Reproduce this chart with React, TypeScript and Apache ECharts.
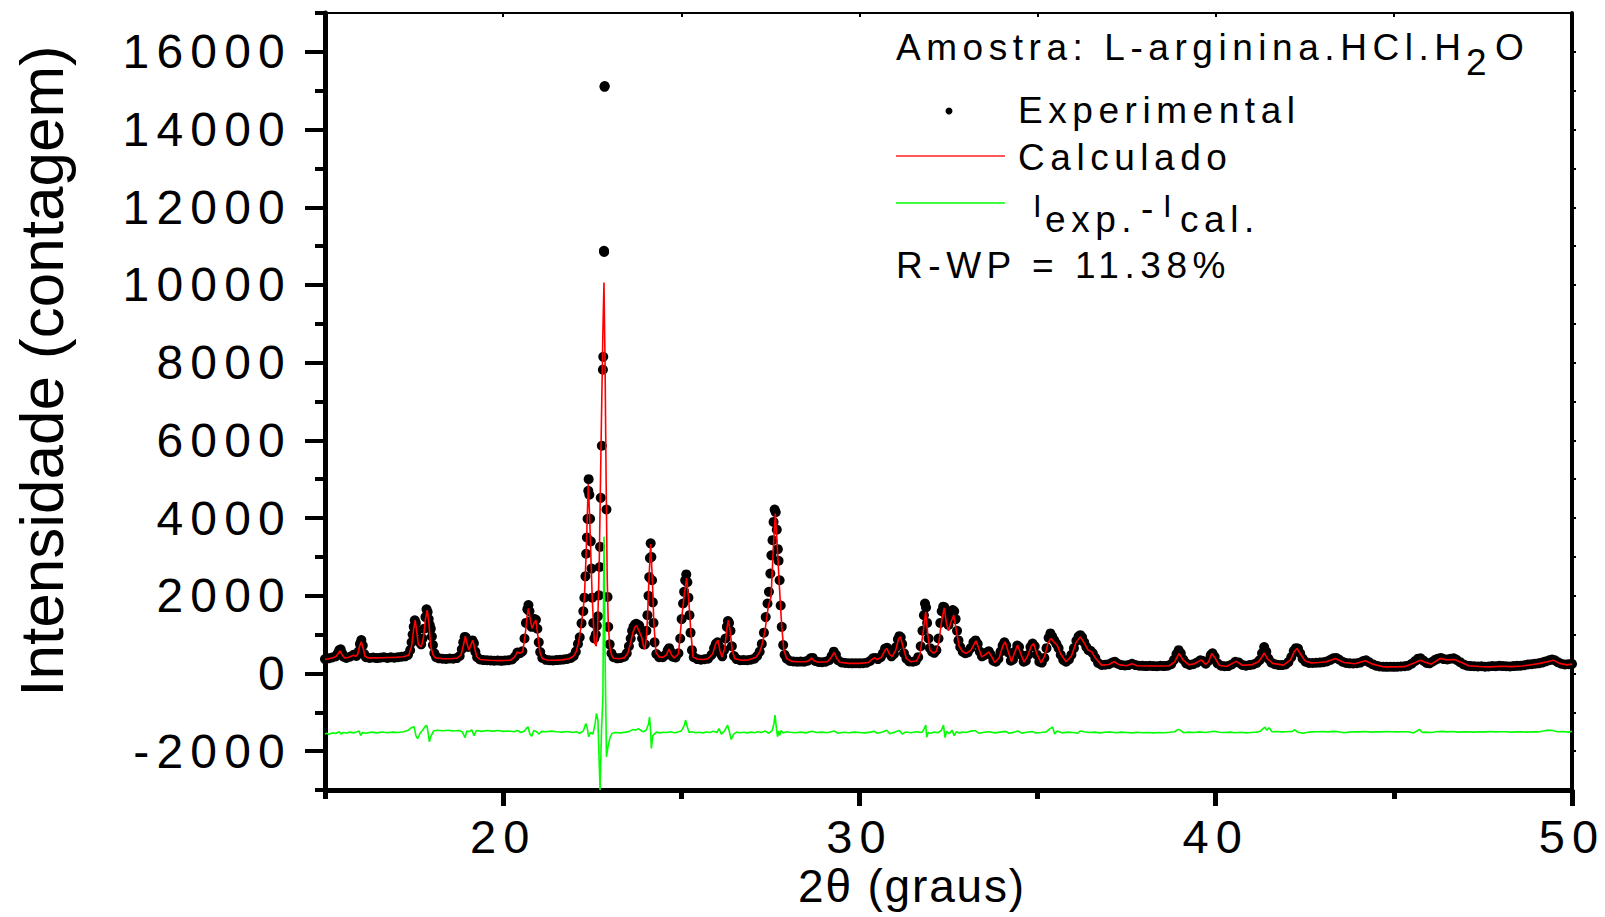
import React, { useEffect, useRef } from 'react';
import * as echarts from 'echarts';

const FONT = "'Liberation Sans', Arial, sans-serif";

// axis ticks / labels
const xMajorTicks = [20, 30, 40, 50];
const xMinorTicks = [15, 25, 35, 45];
const xTopTicks = [20, 25, 30, 35, 40, 45];
const yMajorTicks = [-2000, 0, 2000, 4000, 6000, 8000, 10000, 12000, 14000, 16000];
const yMinorTicks = [-3000, -1000, 1000, 3000, 5000, 7000, 9000, 11000, 13000, 15000, 17000];
const yRightTicks = [-2000, -1000, 0, 1000, 2000, 3000, 4000, 5000, 6000, 7000, 8000, 9000, 10000, 11000, 12000, 13000, 14000, 15000, 16000];

// Experimental (2θ, intensity)
const experimental: [number, number][] = [
  [15.0, 370], [15.1, 390], [15.2, 410], [15.3, 440], [15.36, 520], [15.4, 600], [15.44, 620], [15.48, 520], [15.52, 430], [15.6, 400],
  [15.7, 430], [15.8, 480], [15.88, 450], [15.94, 560], [15.98, 760], [16.02, 860], [16.06, 720], [16.1, 500], [16.15, 420], [16.25, 400],
  [16.35, 410], [16.45, 395], [16.55, 405], [16.65, 420], [16.75, 400], [16.85, 415], [16.95, 405], [17.05, 420], [17.15, 430], [17.25, 440],
  [17.33, 480], [17.39, 600], [17.43, 800], [17.46, 1000], [17.49, 1200], [17.52, 1370], [17.55, 1300], [17.58, 1100], [17.62, 850], [17.66, 800],
  [17.7, 750], [17.74, 900], [17.78, 1150], [17.82, 1450], [17.85, 1650], [17.88, 1580], [17.91, 1400], [17.94, 1250], [17.97, 1150], [18.0, 950],
  [18.03, 730], [18.07, 520], [18.12, 420], [18.2, 390], [18.3, 380], [18.4, 375], [18.5, 385], [18.6, 380], [18.7, 395], [18.78, 450],
  [18.84, 620], [18.88, 800], [18.92, 940], [18.95, 930], [18.98, 800], [19.02, 680], [19.06, 720], [19.1, 830], [19.14, 850], [19.18, 780],
  [19.22, 560], [19.27, 420], [19.35, 360], [19.45, 345], [19.55, 340], [19.65, 335], [19.75, 330], [19.85, 335], [19.95, 325], [20.05, 335],
  [20.15, 340], [20.25, 360], [20.33, 430], [20.4, 540], [20.47, 520], [20.54, 570], [20.6, 900], [20.64, 1300], [20.68, 1650], [20.71, 1760],
  [20.74, 1600], [20.77, 1350], [20.8, 1200], [20.84, 1300], [20.88, 1400], [20.92, 1380], [20.96, 1150], [21.0, 800], [21.04, 550], [21.1, 400],
  [21.2, 350], [21.3, 340], [21.4, 335], [21.5, 345], [21.6, 350], [21.7, 360], [21.8, 375], [21.9, 400], [21.98, 450], [22.04, 560],
  [22.1, 760], [22.15, 930], [22.2, 1290], [22.25, 1600], [22.28, 1950], [22.31, 2500], [22.33, 3080], [22.35, 3500], [22.37, 3980], [22.39, 4700],
  [22.4, 5000], [22.42, 4600], [22.44, 3980], [22.46, 3400], [22.48, 2700], [22.5, 1950], [22.53, 1300], [22.56, 900], [22.6, 1000], [22.63, 1230],
  [22.66, 1470], [22.69, 2010], [22.71, 2740], [22.72, 3260], [22.74, 4520], [22.77, 5860], [22.8, 7820], [22.81, 8150], [22.83, 10880], [22.835, 10850],
  [22.845, 15100], [22.85, 15120], [22.9, 4220], [22.93, 1970], [22.95, 1200], [22.99, 750], [23.04, 520], [23.1, 420], [23.2, 390], [23.3, 400],
  [23.4, 430], [23.47, 520], [23.53, 700], [23.58, 900], [23.62, 1100], [23.66, 1200], [23.7, 1260], [23.74, 1280], [23.78, 1250], [23.82, 1230],
  [23.86, 1100], [23.9, 900], [23.94, 750], [23.98, 750], [24.02, 1100], [24.05, 1500], [24.08, 2000], [24.1, 2480], [24.12, 2970], [24.14, 3350],
  [24.16, 3000], [24.18, 2400], [24.2, 1830], [24.22, 1300], [24.25, 800], [24.3, 500], [24.38, 420], [24.48, 420], [24.56, 480], [24.62, 600],
  [24.66, 650], [24.7, 560], [24.76, 430], [24.84, 410], [24.92, 520], [24.97, 900], [25.01, 1400], [25.05, 1800], [25.08, 2100], [25.11, 2400],
  [25.14, 2550], [25.17, 2350], [25.2, 1950], [25.23, 1500], [25.26, 1050], [25.3, 600], [25.35, 420], [25.45, 370], [25.55, 355], [25.65, 365],
  [25.75, 380], [25.85, 480], [25.92, 650], [25.97, 760], [26.02, 800], [26.06, 700], [26.1, 520], [26.15, 440], [26.2, 600], [26.24, 900],
  [26.28, 1200], [26.31, 1350], [26.34, 1300], [26.38, 1100], [26.42, 700], [26.48, 450], [26.55, 370], [26.65, 340], [26.75, 345], [26.85, 340],
  [26.95, 355], [27.05, 380], [27.13, 450], [27.2, 560], [27.26, 760], [27.32, 1050], [27.37, 1450], [27.42, 1800], [27.46, 2100], [27.5, 2570],
  [27.53, 3040], [27.56, 3430], [27.59, 3900], [27.62, 4220], [27.65, 4150], [27.68, 3700], [27.71, 3200], [27.73, 2900], [27.76, 2400], [27.79, 1750],
  [27.82, 1200], [27.86, 730], [27.9, 480], [27.96, 380], [28.05, 320], [28.15, 310], [28.25, 300], [28.35, 305], [28.45, 300], [28.55, 330],
  [28.63, 390], [28.69, 400], [28.76, 320], [28.85, 295], [28.95, 290], [29.05, 300], [29.15, 340], [29.22, 450], [29.28, 560], [29.34, 480],
  [29.4, 340], [29.5, 285], [29.6, 270], [29.7, 265], [29.8, 260], [29.9, 265], [30.0, 260], [30.1, 265], [30.2, 275], [30.3, 320],
  [30.38, 390], [30.45, 400], [30.52, 370], [30.6, 420], [30.66, 520], [30.72, 640], [30.78, 660], [30.84, 520], [30.9, 440], [30.97, 500],
  [31.03, 680], [31.08, 880], [31.12, 960], [31.16, 930], [31.2, 760], [31.25, 520], [31.32, 380], [31.4, 310], [31.5, 300], [31.58, 320],
  [31.65, 420], [31.72, 700], [31.77, 1100], [31.81, 1500], [31.84, 1800], [31.87, 1700], [31.9, 1300], [31.94, 900], [31.98, 650], [32.04, 560],
  [32.1, 530], [32.16, 600], [32.22, 900], [32.27, 1300], [32.31, 1600], [32.35, 1720], [32.39, 1700], [32.43, 1500], [32.47, 1300], [32.5, 1250],
  [32.54, 1400], [32.58, 1550], [32.62, 1630], [32.66, 1600], [32.7, 1400], [32.74, 1100], [32.78, 850], [32.83, 680], [32.9, 560], [32.97, 520],
  [33.04, 540], [33.12, 650], [33.2, 800], [33.26, 850], [33.32, 760], [33.38, 560], [33.44, 440], [33.5, 470], [33.57, 540], [33.63, 570],
  [33.69, 480], [33.76, 330], [33.83, 300], [33.9, 380], [33.96, 560], [34.02, 720], [34.07, 800], [34.12, 720], [34.18, 540], [34.25, 330],
  [34.31, 360], [34.37, 560], [34.43, 720], [34.48, 680], [34.54, 480], [34.61, 300], [34.67, 330], [34.74, 480], [34.8, 680], [34.86, 770],
  [34.92, 700], [34.98, 480], [35.05, 300], [35.12, 280], [35.19, 400], [35.25, 650], [35.31, 920], [35.36, 1030], [35.41, 950], [35.47, 850],
  [35.53, 760], [35.59, 650], [35.65, 480], [35.72, 350], [35.8, 300], [35.88, 360], [35.95, 480], [36.02, 650], [36.09, 840], [36.15, 950],
  [36.2, 985], [36.25, 930], [36.31, 800], [36.37, 680], [36.43, 600], [36.49, 580], [36.55, 520], [36.62, 400], [36.7, 270], [36.8, 220],
  [36.9, 225], [37.0, 240], [37.1, 280], [37.17, 300], [37.25, 250], [37.35, 215], [37.45, 205], [37.55, 215], [37.65, 250], [37.75, 215],
  [37.85, 200], [37.95, 195], [38.05, 190], [38.15, 195], [38.25, 190], [38.35, 185], [38.45, 195], [38.55, 190], [38.65, 200], [38.75, 240],
  [38.83, 350], [38.9, 500], [38.96, 600], [39.02, 520], [39.09, 360], [39.17, 260], [39.27, 220], [39.37, 240], [39.47, 280], [39.57, 340],
  [39.64, 320], [39.72, 250], [39.8, 330], [39.86, 470], [39.91, 520], [39.97, 430], [40.05, 260], [40.15, 200], [40.25, 185], [40.35, 190],
  [40.45, 230], [40.55, 300], [40.65, 280], [40.75, 220], [40.85, 200], [40.95, 215], [41.05, 230], [41.15, 270], [41.23, 340], [41.3, 520],
  [41.36, 680], [41.42, 560], [41.48, 380], [41.56, 280], [41.66, 240], [41.76, 220], [41.86, 215], [41.96, 230], [42.04, 290], [42.12, 420],
  [42.19, 580], [42.25, 650], [42.31, 640], [42.37, 520], [42.44, 380], [42.52, 300], [42.62, 270], [42.72, 270], [42.82, 275], [42.92, 280],
  [43.02, 290], [43.12, 310], [43.22, 350], [43.3, 390], [43.38, 400], [43.46, 360], [43.56, 300], [43.66, 270], [43.76, 260], [43.86, 255],
  [43.96, 265], [44.06, 280], [44.14, 320], [44.22, 340], [44.3, 290], [44.4, 240], [44.5, 200], [44.6, 180], [44.7, 175], [44.8, 170],
  [44.9, 175], [45.0, 170], [45.1, 175], [45.2, 180], [45.3, 185], [45.4, 200], [45.5, 250], [45.6, 320], [45.68, 380], [45.75, 390],
  [45.83, 330], [45.92, 270], [46.0, 260], [46.08, 300], [46.16, 350], [46.24, 380], [46.32, 400], [46.4, 370], [46.5, 360], [46.6, 380],
  [46.68, 390], [46.76, 350], [46.86, 290], [46.96, 230], [47.06, 200], [47.16, 190], [47.26, 185], [47.36, 180], [47.46, 185], [47.56, 175],
  [47.66, 180], [47.76, 190], [47.86, 185], [47.96, 195], [48.06, 190], [48.16, 185], [48.26, 180], [48.36, 190], [48.46, 195], [48.56, 200],
  [48.66, 210], [48.76, 230], [48.86, 240], [48.96, 250], [49.06, 260], [49.16, 280], [49.26, 310], [49.36, 340], [49.44, 360], [49.52, 340],
  [49.6, 290], [49.7, 250], [49.8, 230], [49.9, 240], [50.0, 245],
];

// Calculated profile (2θ, intensity)
const calculado: [number, number][] = [
  [15.0, 360], [15.1, 380], [15.2, 400], [15.3, 430], [15.36, 500], [15.42, 580], [15.48, 480], [15.55, 400], [15.65, 410], [15.75, 450],
  [15.8, 470], [15.86, 440], [15.92, 500], [15.97, 700], [16.02, 814], [16.07, 650], [16.12, 450], [16.2, 400], [16.4, 400], [16.6, 405],
  [16.8, 410], [17.0, 415], [17.2, 430], [17.35, 470], [17.43, 700], [17.49, 1150], [17.53, 1372], [17.57, 1100], [17.62, 750], [17.7, 685],
  [17.76, 900], [17.82, 1400], [17.87, 1630], [17.92, 1250], [17.97, 700], [18.03, 480], [18.1, 400], [18.3, 380], [18.5, 380], [18.7, 390],
  [18.82, 480], [18.89, 750], [18.94, 960], [18.99, 750], [19.04, 600], [19.1, 750], [19.15, 857], [19.2, 650], [19.26, 430], [19.35, 360],
  [19.6, 340], [19.9, 330], [20.2, 340], [20.32, 420], [20.4, 556], [20.46, 520], [20.55, 560], [20.62, 1000], [20.67, 1450], [20.71, 1672],
  [20.75, 1450], [20.81, 1158], [20.87, 1300], [20.92, 1372], [20.97, 1000], [21.03, 550], [21.1, 386], [21.25, 340], [21.45, 340], [21.65, 350],
  [21.85, 380], [21.98, 450], [22.05, 560], [22.12, 800], [22.2, 1287], [22.28, 1946], [22.33, 3084], [22.36, 4000], [22.39, 4883], [22.43, 3982],
  [22.46, 3084], [22.5, 1946], [22.56, 805], [22.61, 700], [22.65, 1100], [22.7, 3000], [22.75, 6000], [22.8, 8800], [22.83, 10060], [22.86, 8000],
  [22.89, 5000], [22.92, 2500], [22.95, 1300], [22.99, 700], [23.04, 480], [23.1, 390], [23.25, 380], [23.4, 400], [23.5, 520], [23.58, 800],
  [23.64, 1047], [23.7, 1200], [23.75, 1228], [23.81, 1100], [23.89, 927], [23.94, 700], [23.98, 625], [24.02, 900], [24.05, 1405], [24.09, 2365],
  [24.14, 3328], [24.19, 2365], [24.23, 1287], [24.29, 540], [24.38, 420], [24.5, 420], [24.58, 480], [24.66, 625], [24.72, 480], [24.8, 400],
  [24.92, 500], [25.01, 1405], [25.08, 2005], [25.15, 2453], [25.21, 1880], [25.27, 1050], [25.33, 420], [25.45, 370], [25.6, 360], [25.75, 380],
  [25.88, 500], [25.97, 780], [26.03, 857], [26.08, 600], [26.14, 420], [26.22, 650], [26.28, 1150], [26.32, 1372], [26.37, 1100], [26.43, 600],
  [26.5, 380], [26.7, 340], [26.9, 350], [27.1, 420], [27.2, 550], [27.27, 750], [27.35, 1100], [27.44, 1715], [27.52, 1972], [27.58, 3174],
  [27.64, 4118], [27.7, 3174], [27.76, 2144], [27.82, 1200], [27.88, 600], [27.96, 386], [28.1, 310], [28.3, 300], [28.5, 300], [28.6, 340],
  [28.66, 400], [28.72, 330], [28.85, 290], [29.1, 300], [29.2, 400], [29.29, 540], [29.36, 400], [29.45, 290], [29.7, 260], [30.0, 260],
  [30.25, 280], [30.35, 360], [30.42, 403], [30.5, 360], [30.62, 420], [30.72, 600], [30.77, 643], [30.84, 500], [30.92, 430], [31.02, 600],
  [31.1, 900], [31.15, 943], [31.22, 700], [31.32, 380], [31.45, 300], [31.6, 320], [31.7, 500], [31.78, 1000], [31.86, 1587], [31.92, 1000],
  [31.98, 600], [32.08, 520], [32.15, 560], [32.23, 800], [32.3, 1300], [32.38, 1690], [32.44, 1300], [32.5, 1100], [32.56, 1300], [32.65, 1501],
  [32.72, 1100], [32.8, 700], [32.9, 560], [33.0, 515], [33.13, 600], [33.27, 839], [33.35, 650], [33.43, 428], [33.53, 480], [33.63, 557],
  [33.72, 420], [33.8, 280], [33.92, 400], [34.02, 700], [34.09, 814], [34.18, 550], [34.27, 300], [34.36, 550], [34.44, 728], [34.53, 500],
  [34.62, 290], [34.72, 450], [34.82, 700], [34.89, 772], [34.98, 500], [35.1, 270], [35.2, 450], [35.3, 800], [35.38, 900], [35.47, 800],
  [35.55, 730], [35.65, 500], [35.8, 300], [35.95, 450], [36.08, 800], [36.2, 943], [36.3, 800], [36.42, 600], [36.52, 557], [36.62, 400],
  [36.8, 214], [37.0, 230], [37.15, 300], [37.3, 220], [37.5, 200], [37.65, 250], [37.8, 200], [38.1, 190], [38.4, 190], [38.7, 200],
  [38.85, 300], [38.97, 515], [39.08, 350], [39.25, 220], [39.4, 250], [39.6, 350], [39.72, 230], [39.8, 300], [39.89, 515], [39.98, 400],
  [40.1, 210], [40.3, 180], [40.58, 310], [40.75, 210], [41.0, 220], [41.2, 300], [41.3, 430], [41.36, 531], [41.45, 380], [41.6, 260],
  [41.9, 214], [42.1, 350], [42.2, 550], [42.28, 643], [42.38, 500], [42.5, 330], [42.66, 273], [42.9, 280], [43.1, 300], [43.36, 386],
  [43.6, 280], [43.9, 250], [44.2, 325], [44.4, 240], [44.7, 170], [45.0, 170], [45.3, 175], [45.55, 260], [45.74, 342], [45.9, 280],
  [46.05, 240], [46.3, 386], [46.5, 350], [46.7, 360], [46.9, 280], [47.1, 200], [47.4, 180], [47.7, 170], [48.0, 185], [48.3, 175],
  [48.6, 190], [48.9, 230], [49.1, 260], [49.3, 300], [49.48, 342], [49.65, 260], [49.85, 220], [50.0, 240],
];

// Difference I_exp - I_cal, drawn with its offset (2θ, intensity)
const diferenca: [number, number][] = [
  [15.0, -1560], [15.05, -1540], [15.1, -1570], [15.2, -1530], [15.3, -1545], [15.4, -1500], [15.45, -1560], [15.5, -1520], [15.6, -1535], [15.7, -1510],
  [15.8, -1530], [15.9, -1500], [15.96, -1480], [16.0, -1600], [16.05, -1520], [16.15, -1540], [16.3, -1510], [16.45, -1530], [16.6, -1505], [16.75, -1525],
  [16.9, -1510], [17.05, -1520], [17.2, -1500], [17.32, -1470], [17.42, -1400], [17.5, -1370], [17.55, -1600], [17.6, -1680], [17.67, -1540], [17.75, -1450],
  [17.82, -1350], [17.86, -1340], [17.9, -1560], [17.93, -1760], [17.97, -1620], [18.05, -1480], [18.15, -1460], [18.3, -1475], [18.45, -1460], [18.6, -1480],
  [18.75, -1470], [18.85, -1500], [18.93, -1650], [18.98, -1480], [19.05, -1500], [19.12, -1450], [19.18, -1600], [19.25, -1470], [19.4, -1490], [19.55, -1470],
  [19.7, -1485], [19.85, -1470], [20.0, -1490], [20.15, -1480], [20.3, -1500], [20.4, -1470], [20.5, -1520], [20.6, -1480], [20.66, -1400], [20.7, -1380],
  [20.75, -1560], [20.8, -1620], [20.86, -1470], [20.94, -1500], [21.0, -1560], [21.08, -1490], [21.2, -1500], [21.35, -1485], [21.5, -1500], [21.65, -1510],
  [21.8, -1495], [21.95, -1520], [22.05, -1500], [22.15, -1540], [22.25, -1480], [22.32, -1290], [22.36, -1400], [22.4, -1630], [22.45, -1520], [22.52, -1560],
  [22.58, -1300], [22.62, -1030], [22.66, -1200], [22.72, -3000], [22.76, -1500], [22.8, -600], [22.83, 3520], [22.86, 500], [22.9, -2150], [22.94, -1900],
  [23.0, -1650], [23.05, -1545], [23.15, -1520], [23.3, -1530], [23.45, -1510], [23.55, -1490], [23.65, -1440], [23.72, -1460], [23.8, -1420], [23.88, -1480],
  [23.95, -1500], [24.02, -1450], [24.08, -1300], [24.11, -1120], [24.14, -1500], [24.16, -1930], [24.2, -1600], [24.3, -1510], [24.4, -1530], [24.5, -1515],
  [24.6, -1520], [24.7, -1500], [24.8, -1525], [24.9, -1510], [25.0, -1480], [25.08, -1350], [25.12, -1200], [25.17, -1380], [25.22, -1520], [25.3, -1500],
  [25.4, -1525], [25.5, -1515], [25.6, -1530], [25.7, -1505], [25.8, -1520], [25.9, -1490], [26.0, -1520], [26.06, -1420], [26.12, -1560], [26.2, -1500],
  [26.3, -1330], [26.35, -1500], [26.4, -1700], [26.47, -1560], [26.55, -1510], [26.65, -1525], [26.75, -1515], [26.85, -1530], [26.95, -1510], [27.05, -1525],
  [27.15, -1500], [27.25, -1520], [27.35, -1480], [27.45, -1540], [27.55, -1470], [27.6, -1300], [27.63, -1070], [27.67, -1400], [27.7, -1630], [27.73, -1480],
  [27.76, -1600], [27.8, -1470], [27.86, -1530], [27.95, -1500], [28.05, -1515], [28.2, -1525], [28.35, -1510], [28.5, -1530], [28.66, -1490], [28.8, -1520],
  [28.95, -1510], [29.1, -1525], [29.29, -1480], [29.4, -1540], [29.55, -1515], [29.7, -1525], [29.85, -1510], [30.0, -1520], [30.15, -1530], [30.3, -1510],
  [30.42, -1490], [30.5, -1540], [30.65, -1505], [30.77, -1460], [30.85, -1550], [31.0, -1510], [31.12, -1470], [31.2, -1560], [31.3, -1505], [31.45, -1525],
  [31.6, -1500], [31.75, -1520], [31.82, -1420], [31.86, -1330], [31.89, -1640], [31.93, -1520], [32.0, -1540], [32.1, -1510], [32.2, -1525], [32.3, -1470],
  [32.36, -1330], [32.4, -1650], [32.45, -1490], [32.52, -1550], [32.6, -1460], [32.66, -1600], [32.72, -1500], [32.8, -1530], [32.9, -1505], [33.0, -1520],
  [33.1, -1490], [33.25, -1470], [33.35, -1540], [33.5, -1515], [33.65, -1500], [33.8, -1530], [33.95, -1510], [34.1, -1490], [34.2, -1540], [34.35, -1510],
  [34.45, -1480], [34.55, -1535], [34.7, -1515], [34.85, -1495], [34.95, -1530], [35.1, -1520], [35.25, -1500], [35.35, -1420], [35.42, -1380], [35.48, -1560],
  [35.55, -1480], [35.7, -1530], [35.85, -1510], [36.0, -1520], [36.12, -1540], [36.2, -1480], [36.3, -1500], [36.45, -1520], [36.6, -1510], [36.75, -1530],
  [36.9, -1515], [37.05, -1505], [37.2, -1525], [37.35, -1510], [37.5, -1520], [37.65, -1530], [37.8, -1515], [37.95, -1525], [38.1, -1520], [38.25, -1530],
  [38.4, -1520], [38.55, -1525], [38.7, -1515], [38.85, -1500], [38.95, -1440], [39.02, -1470], [39.1, -1525], [39.25, -1510], [39.4, -1520], [39.55, -1505],
  [39.7, -1520], [39.85, -1500], [39.95, -1490], [40.1, -1515], [40.25, -1520], [40.4, -1510], [40.55, -1525], [40.7, -1515], [40.85, -1530], [41.0, -1520],
  [41.15, -1510], [41.25, -1490], [41.33, -1420], [41.38, -1380], [41.43, -1460], [41.5, -1400], [41.58, -1500], [41.7, -1495], [41.85, -1505], [42.0, -1500],
  [42.15, -1490], [42.22, -1450], [42.3, -1510], [42.45, -1540], [42.55, -1520], [42.7, -1505], [42.85, -1500], [43.0, -1495], [43.15, -1505], [43.3, -1490],
  [43.45, -1500], [43.6, -1525], [43.75, -1510], [43.9, -1500], [44.05, -1505], [44.2, -1495], [44.35, -1510], [44.5, -1500], [44.65, -1505], [44.8, -1495],
  [44.95, -1500], [45.1, -1505], [45.25, -1500], [45.4, -1500], [45.55, -1530], [45.65, -1480], [45.72, -1440], [45.8, -1520], [45.9, -1510], [46.05, -1520],
  [46.2, -1500], [46.35, -1490], [46.5, -1505], [46.65, -1495], [46.8, -1510], [46.95, -1505], [47.1, -1500], [47.25, -1510], [47.4, -1500], [47.55, -1505],
  [47.7, -1495], [47.85, -1505], [48.0, -1500], [48.15, -1500], [48.3, -1510], [48.45, -1505], [48.6, -1500], [48.75, -1510], [48.9, -1500], [49.05, -1505],
  [49.2, -1480], [49.3, -1460], [49.45, -1470], [49.6, -1500], [49.75, -1495], [49.9, -1510], [50.0, -1490],
];

function txt(text: string, x: number, y: number, fontSize: number, extra: any = {}) {
  const { align, lineHeight, ...rest } = extra;
  return {
    type: 'text',
    x,
    y,
    silent: true,
    ...rest,
    style: {
      text,
      fontSize,
      fontFamily: FONT,
      fill: '#000',
      align: align || 'left',
      verticalAlign: 'middle',
      textAlign: align || 'left',
      textVerticalAlign: 'middle',
      ...(lineHeight ? { lineHeight } : {}),
    },
  };
}

const labelFmt = (v: number) => String(v);

export default function App() {
  const ref = useRef<HTMLDivElement>(null);

  useEffect(() => {
    const chart = echarts.init(ref.current!, null, { renderer: 'svg' });
    const axisBase = { type: 'value', min: 15, max: 50, splitLine: { show: false } };
    const yBase = { type: 'value', min: -3000, max: 17000, splitLine: { show: false } };
    chart.setOption({
      animation: false,
      backgroundColor: '#ffffff',
      textStyle: { fontFamily: FONT },
      grid: { left: 325, right: 33, top: 13, bottom: 127, containLabel: false },
      xAxis: [
        {
          ...axisBase,
          position: 'bottom',
          axisLine: { show: true, onZero: false, lineStyle: { color: '#000', width: 5 } },
          axisTick: { show: true, customValues: xMajorTicks, length: 16, lineStyle: { color: '#000', width: 5 } },
          axisLabel: {
            show: true, customValues: xMajorTicks, fontSize: 47, lineHeight: 34, color: '#000',
            fontFamily: FONT, margin: 29, formatter: labelFmt,
          },
        },
        {
          ...axisBase,
          position: 'bottom',
          axisLine: { show: false, onZero: false },
          axisTick: { show: true, customValues: xMinorTicks, length: 9, lineStyle: { color: '#000', width: 5 } },
          axisLabel: { show: false },
        },
        {
          ...axisBase,
          position: 'top',
          axisLine: { show: true, onZero: false, lineStyle: { color: '#000', width: 2 } },
          axisTick: { show: true, inside: true, customValues: xTopTicks, length: 4, lineStyle: { color: '#000', width: 2 } },
          axisLabel: { show: false },
        },
      ],
      yAxis: [
        {
          ...yBase,
          position: 'left',
          axisLine: { show: true, onZero: false, lineStyle: { color: '#000', width: 5 } },
          axisTick: { show: true, customValues: yMajorTicks, length: 20, lineStyle: { color: '#000', width: 4 } },
          axisLabel: {
            show: true, customValues: yMajorTicks, fontSize: 48, color: '#000',
            fontFamily: FONT, margin: 33, formatter: labelFmt,
          },
        },
        {
          ...yBase,
          position: 'left',
          axisLine: { show: false, onZero: false },
          axisTick: { show: true, customValues: yMinorTicks, length: 10, lineStyle: { color: '#000', width: 4 } },
          axisLabel: { show: false },
        },
        {
          ...yBase,
          position: 'right',
          axisLine: { show: true, onZero: false, lineStyle: { color: '#000', width: 4 } },
          axisTick: { show: true, customValues: yRightTicks, length: 4, lineStyle: { color: '#000', width: 2 } },
          axisLabel: { show: false },
        },
      ],
      series: [
        {
          name: 'Experimental',
          type: 'scatter',
          data: experimental,
          symbol: 'circle',
          symbolSize: 10,
          itemStyle: { color: '#000000', opacity: 1 },
          xAxisIndex: 0,
          yAxisIndex: 0,
          silent: true,
        },
        {
          name: 'Calculado',
          type: 'line',
          data: calculado,
          showSymbol: false,
          lineStyle: { color: '#ff0000', width: 1.6 },
          xAxisIndex: 0,
          yAxisIndex: 0,
          silent: true,
        },
        {
          name: 'Iexp - Ical',
          type: 'line',
          data: diferenca,
          showSymbol: false,
          lineStyle: { color: '#00ff00', width: 1.6 },
          xAxisIndex: 0,
          yAxisIndex: 0,
          silent: true,
        },
      ],
      graphic: [
        txt('Intensidade (contagem)', 41.5, 371, 62, { rotation: Math.PI / 2, align: 'center' }),
        txt('2θ (graus)', 912, 886, 46, { align: 'center', lineHeight: 40 }),
        txt('Amostra: L-arginina.HCl.H', 896, 47, 37),
        txt('2', 1466, 62, 37),
        txt('O', 1495, 47, 37),
        { type: 'circle', shape: { cx: 949, cy: 111, r: 3.5 }, style: { fill: '#000' }, silent: true },
        txt('Experimental', 1018, 110, 37),
        { type: 'line', shape: { x1: 896, y1: 156, x2: 1005, y2: 156 }, style: { stroke: '#ff2020', lineWidth: 1.4 }, silent: true },
        txt('Calculado', 1018, 157.5, 37),
        { type: 'line', shape: { x1: 896, y1: 203, x2: 1005, y2: 203 }, style: { stroke: '#00ff00', lineWidth: 1.4 }, silent: true },
        txt('I', 1033, 206, 31),
        txt('exp.', 1045, 219, 37),
        txt('-', 1141, 208, 37),
        txt('I', 1163, 206, 31),
        txt('cal.', 1180, 219, 37),
        txt('R-WP = 11.38%', 896, 265, 37),
      ],
    });
    return () => chart.dispose();
  }, []);

  return (
    <>
      <style>{`.rk-chart text{letter-spacing:0.15em}.rk-chart text[style*="62px"]{letter-spacing:0}.rk-chart text[style*="46px"]{letter-spacing:0.04em}.rk-chart text[style*="31px"]{letter-spacing:0}`}</style>
      <div
        ref={ref}
        className="rk-chart"
        style={{ position: 'fixed', left: 0, top: 0, width: 1605, height: 917, background: '#fff' }}
      />
    </>
  );
}
